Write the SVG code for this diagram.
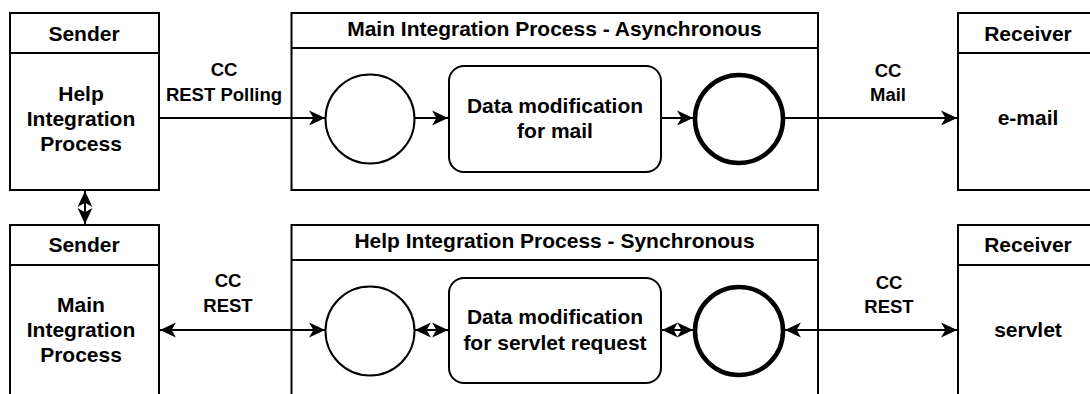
<svg xmlns="http://www.w3.org/2000/svg" width="1090" height="394" viewBox="0 0 1090 394">
<style>
.box{fill:#fff;stroke:#000;stroke-width:2}
.ln{fill:none;stroke:#000;stroke-width:2}
.c{fill:#fff;stroke:#000;stroke-width:2}
.ce{fill:#fff;stroke:#000;stroke-width:4.5}
text{font-family:"Liberation Sans",Arial,sans-serif;font-weight:bold;fill:#000;text-anchor:middle}
.t{font-size:21px}
.l{font-size:18.5px}
</style>
<defs>
<marker id="ah" markerUnits="userSpaceOnUse" markerWidth="18" markerHeight="18" viewBox="-16 -8 17 16" refX="0" refY="0" orient="auto-start-reverse">
<path d="M0,0 L-15,-7 L-11,0 L-15,7 Z" fill="#000"/>
</marker>
</defs>
<rect width="1090" height="394" fill="#fff"/>
<g id="sender1">
<rect class="box" x="10" y="13" width="149" height="177"/>
<line class="ln" x1="10" y1="53" x2="159" y2="53"/>
<text class="t" x="84" y="41">Sender</text>
<text class="t" x="81" y="101">Help</text>
<text class="t" x="81" y="126">Integration</text>
<text class="t" x="81" y="151">Process</text>
</g>
<g id="mainAsync">
<rect class="box" x="291.5" y="13" width="526.5" height="177"/>
<line class="ln" x1="291.5" y1="48" x2="818" y2="48"/>
<text class="t" x="554.5" y="36">Main Integration Process - Asynchronous</text>
</g>
<g id="start1"><circle class="c" cx="370" cy="119" r="44.5"/></g>
<g id="task1">
<rect class="box" x="449" y="66" width="212" height="106" rx="15"/>
<text class="t" x="555" y="113">Data modification</text>
<text class="t" x="555" y="138">for mail</text>
</g>
<g id="end1"><circle class="ce" cx="739" cy="119" r="44"/></g>
<g id="receiver1">
<rect class="box" x="958" y="13" width="142" height="177"/>
<line class="ln" x1="958" y1="53" x2="1100" y2="53"/>
<text class="t" x="1028" y="41">Receiver</text>
<text class="t" x="1028" y="125">e-mail</text>
</g>
<g id="sender2">
<rect class="box" x="10" y="225" width="149" height="180"/>
<line class="ln" x1="10" y1="265" x2="159" y2="265"/>
<text class="t" x="84" y="252">Sender</text>
<text class="t" x="81" y="312">Main</text>
<text class="t" x="81" y="337">Integration</text>
<text class="t" x="81" y="362">Process</text>
</g>
<g id="helpSync">
<rect class="box" x="291.5" y="225" width="526.5" height="180"/>
<line class="ln" x1="291.5" y1="260" x2="818" y2="260"/>
<text class="t" x="554.5" y="248">Help Integration Process - Synchronous</text>
</g>
<g id="start2"><circle class="c" cx="370" cy="331" r="44.5"/></g>
<g id="task2">
<rect class="box" x="449" y="278" width="212" height="105" rx="15"/>
<text class="t" x="555" y="324">Data modification</text>
<text class="t" x="555" y="350">for servlet request</text>
</g>
<g id="end2"><circle class="ce" cx="739" cy="331" r="44"/></g>
<g id="receiver2">
<rect class="box" x="958" y="225" width="142" height="180"/>
<line class="ln" x1="958" y1="265" x2="1100" y2="265"/>
<text class="t" x="1028" y="252">Receiver</text>
<text class="t" x="1028" y="337">servlet</text>
</g>
<g id="connectors">
<line class="ln" x1="159" y1="118" x2="325" y2="118" marker-end="url(#ah)"/>
<line class="ln" x1="415" y1="118" x2="448" y2="118" marker-end="url(#ah)"/>
<line class="ln" x1="661" y1="118" x2="693" y2="118" marker-end="url(#ah)"/>
<line class="ln" x1="785" y1="118" x2="957" y2="118" marker-end="url(#ah)"/>
<line class="ln" x1="85" y1="191" x2="85" y2="224" marker-start="url(#ah)" marker-end="url(#ah)"/>
<line class="ln" x1="160" y1="330" x2="325" y2="330" marker-start="url(#ah)" marker-end="url(#ah)"/>
<line class="ln" x1="415" y1="330" x2="448" y2="330" marker-start="url(#ah)" marker-end="url(#ah)"/>
<line class="ln" x1="662" y1="330" x2="693" y2="330" marker-start="url(#ah)" marker-end="url(#ah)"/>
<line class="ln" x1="785" y1="330" x2="957" y2="330" marker-start="url(#ah)" marker-end="url(#ah)"/>
<text class="l" x="224" y="76">CC</text>
<text class="l" x="224" y="101">REST Polling</text>
<text class="l" x="888" y="77">CC</text>
<text class="l" x="888" y="101">Mail</text>
<text class="l" x="228" y="287">CC</text>
<text class="l" x="228" y="312">REST</text>
<text class="l" x="889" y="289">CC</text>
<text class="l" x="889" y="313">REST</text>
</g>
</svg>
